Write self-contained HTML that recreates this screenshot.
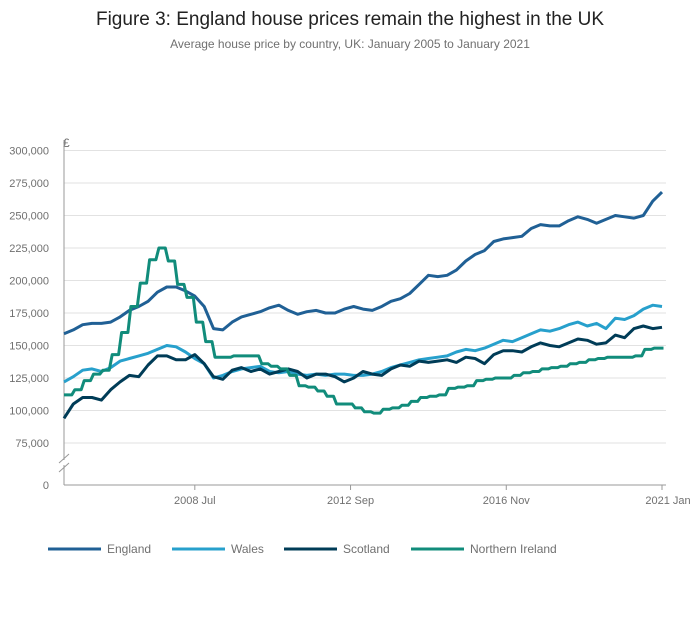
<!DOCTYPE html>
<html><head><meta charset="utf-8"><style>
body{margin:0;background:#fff;font-family:"Liberation Sans",sans-serif;}
svg text{font-family:"Liberation Sans",sans-serif;}
</style></head><body>
<svg width="700" height="635" viewBox="0 0 700 635">
<text x="350" y="25" text-anchor="middle" font-size="19" fill="#222">Figure 3: England house prices remain the highest in the UK</text>
<text x="350" y="48" text-anchor="middle" font-size="12" fill="#707070">Average house price by country, UK: January 2005 to January 2021</text>
<g id="grid"></g><g id="axes"></g><g id="series"></g><g id="legend"></g>
</svg>
<script>
const years=[2005,2006,2007,2008,2009,2010,2011,2012,2013,2014,2015,2016,2017,2018,2019,2020,2021];
const england=[159,162,166,167,167,168,172,177,180,184,191,195,195,192,188,180,163,162,168,172,174,176,179,181,177,174,176,177,175,175,178,180,178,177,180,184,186,190,197,204,203,204,208,215,220,223,230,232,233,234,240,243,242,242,246,249,247,244,247,250,249,248,250,261,268];
const wales=[122,126,131,132,130,133,138,140,142,144,147,150,149,145,140,136,125,127,130,132,133,134,130,129,130,128,127,128,127,128,128,127,127,128,130,133,135,137,139,140,141,142,145,147,146,148,151,154,153,156,159,162,161,163,166,168,165,167,163,171,170,173,178,181,180];
const scotland=[94,105,110,110,108,116,122,127,126,135,142,142,139,139,143,136,126,124,131,133,130,132,128,130,132,130,125,128,128,126,122,125,130,128,127,132,135,134,138,137,138,139,137,141,140,136,143,146,146,145,149,152,150,149,152,155,154,151,152,158,156,163,165,163,164];
const nireland=[112,116,123,128,131,143,160,180,198,216,225,215,197,187,168,153,141,141,142,142,142,136,134,132,127,119,118,115,111,105,105,102,99,98,101,102,104,107,110,111,112,117,118,119,123,124,125,125,127,129,130,132,133,134,136,137,139,140,141,141,141,142,147,148,148];
const yTicks=[75000,100000,125000,150000,175000,200000,225000,250000,275000,300000];
const xTickLabels=["2008 Jul","2012 Sep","2016 Nov","2021 Jan"];
const xTickMonths=[42,92,142,192];
const seriesNames=["England","Wales","Scotland","Northern Ireland"];
const colors=["#206095","#27a0cc","#003c57","#118c7b"];
const NS="http://www.w3.org/2000/svg";
const X0=64,X1=662;
const x=m=>X0+m*(X1-X0)/192;
const y=v=>150.5+(300000-v)*0.0013;
function mk(tag,attrs,parent,txt){const e=document.createElementNS(NS,tag);for(const k in attrs)e.setAttribute(k,attrs[k]);if(txt!=null)e.textContent=txt;parent.appendChild(e);return e;}
const grid=document.getElementById('grid'),axes=document.getElementById('axes'),ser=document.getElementById('series'),leg=document.getElementById('legend');
yTicks.forEach(v=>{
 const l=mk('line',{x1:X0,x2:666,y1:y(v),y2:y(v),stroke:'#e2e2e2','stroke-width':1},grid);
 
 
 const t=mk('text',{x:49,y:y(v)+4,'text-anchor':'end','font-size':11,fill:'#707070'},axes,v.toLocaleString('en-GB'));
 
 
});
const z=mk('text',{x:49,y:489,'text-anchor':'end','font-size':11,fill:'#707070'},axes,'0');


const cur=mk('text',{x:63,y:147,'font-size':12,fill:'#707070'},axes,'£');


const ya=mk('line',{x1:X0,x2:X0,y1:140,y2:485,stroke:'#999','stroke-width':1},axes);


const xa=mk('line',{x1:X0,x2:666,y1:485,y2:485,stroke:'#999','stroke-width':1},axes);


const brw=mk('rect',{x:61,y:460,width:6,height:5,fill:'#fff'},axes);


const br=mk('path',{d:'M59,463 L69,454 M59,472 L69,463',stroke:'#999','stroke-width':1,fill:'none'},axes);


xTickMonths.forEach((m,i)=>{
 const tk=mk('line',{x1:x(m),x2:x(m),y1:485,y2:490,stroke:'#999'},axes);
 
 
 const t=mk('text',{x:x(m)+(i==3?6:0),y:504,'text-anchor':'middle','font-size':11,fill:'#707070'},axes,xTickLabels[i]);
 
 
});
const all=[england,wales,scotland,nireland];
all.forEach((d,si)=>{
 let p='';
 d.forEach((v,i)=>{
  const px=x(i*3),py=y(v*1000);
  if(si==3 && i>0){p+=` L${(px-1.5).toFixed(1)},${y(d[i-1]*1000).toFixed(1)} L${(px+1.5).toFixed(1)},${py.toFixed(1)}`;}
  else p+=(i?' L':'M')+px.toFixed(1)+','+py.toFixed(1);
 });
 const e=mk('path',{d:p,fill:'none',stroke:colors[si],'stroke-width':3,'stroke-linejoin':'round'},ser);
 
 
});
const lx=[48,172,284,411];
seriesNames.forEach((n,i)=>{
 const g=mk('g',{},leg);
 
 
 mk('line',{x1:lx[i],x2:lx[i]+53,y1:549,y2:549,stroke:colors[i],'stroke-width':3},g);
 mk('text',{x:lx[i]+59,y:553,'font-size':12,fill:'#707070'},g,n);
});
</script>
</body></html>
